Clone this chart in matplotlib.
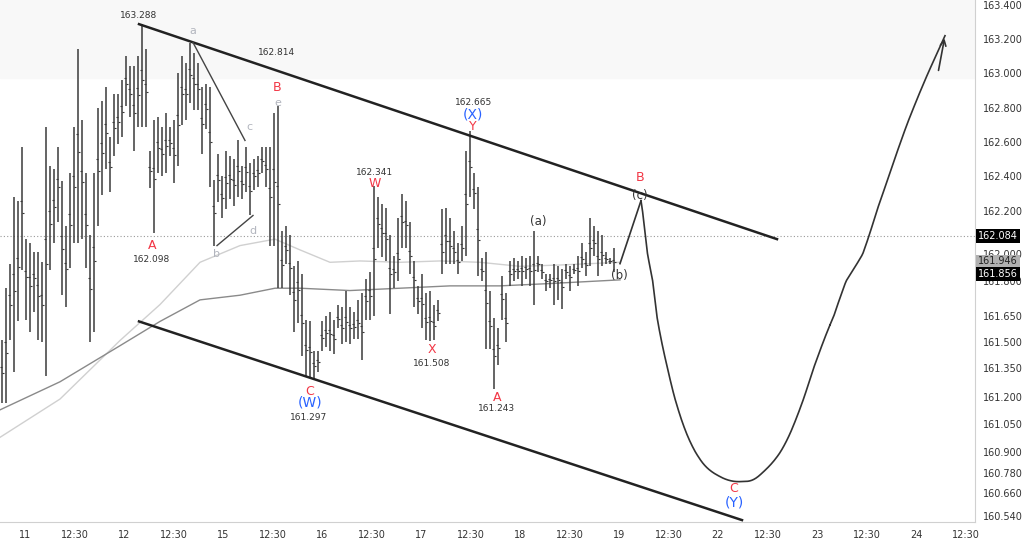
import numpy as np
import matplotlib.pyplot as plt
from matplotlib.scale import FuncScale

# price axis of the reference is not linear: keep its tick layout
tick_vals = [160.54, 160.66, 160.78, 160.90, 161.05, 161.20, 161.35, 161.50, 161.65,
             161.80, 162.00, 162.20, 162.40, 162.60, 162.80, 163.00, 163.20, 163.40]
tick_px = [516, 493, 473, 452, 424, 397, 368, 342, 316, 281, 254, 211, 176, 142, 108, 73, 39, 5]

x_labels = ['11', '12:30', '12', '12:30', '15', '12:30', '16', '12:30', '17', '12:30',
            '18', '12:30', '19', '12:30', '22', '12:30', '23', '12:30', '24', '12:30']

# bars (high, low), one per hour
highs = [161.51, 161.77, 161.93, 162.28, 162.26, 162.57, 162.07, 162.05, 162.01, 162.01,
         161.94, 162.69, 162.46, 162.44, 162.57, 162.37, 162.13, 162.42, 162.69, 163.14,
         162.73, 162.42, 162.09, 162.42, 162.80, 162.84, 162.92, 162.63, 162.88, 162.88,
         162.96, 163.10, 163.04, 163.04, 163.10, 163.288, 163.14, 162.55, 162.73, 162.75,
         162.69, 162.77, 162.69, 162.73, 163.00, 163.10, 163.06, 163.18, 163.12, 163.06,
         162.92, 162.94, 162.92, 162.38, 162.53, 162.40, 162.55, 162.52, 162.50, 162.61,
         162.46, 162.57, 162.48, 162.50, 162.52, 162.57, 162.57, 162.57, 162.77, 162.814,
         162.11, 162.13, 162.09, 161.91, 161.95, 161.85, 161.63, 161.62, 161.45, 161.45,
         161.62, 161.65, 161.67, 161.63, 161.70, 161.69, 161.76, 161.69, 161.67, 161.72,
         161.75, 161.82, 161.87, 162.341, 162.28, 162.24, 162.22, 162.09, 161.99, 162.17,
         162.30, 162.26, 162.15, 161.95, 161.78, 161.85, 161.75, 161.76, 161.70, 161.72,
         162.21, 162.22, 162.17, 162.11, 162.05, 162.13, 162.55, 162.665, 162.42, 162.34,
         161.97, 162.01, 161.76, 161.64, 161.58, 161.84, 161.75, 161.95, 161.97, 161.95,
         161.99, 161.97, 161.99, 162.11, 161.99, 161.93, 161.85, 161.85, 161.93, 161.91,
         161.89, 161.93, 161.91, 161.93, 161.99, 162.05, 162.01, 162.17, 162.13, 162.11,
         162.09, 162.01, 161.97, 162.03]
lows = [161.17, 161.17, 161.51, 161.33, 161.62, 161.88, 161.63, 161.56, 161.67, 161.51,
        161.50, 161.31, 161.88, 162.05, 162.15, 161.74, 161.69, 161.90, 162.05, 162.05,
        162.07, 161.90, 161.50, 161.56, 162.13, 162.29, 162.44, 162.31, 162.52, 162.59,
        162.63, 162.81, 162.75, 162.55, 162.69, 162.69, 162.69, 162.33, 162.098, 162.42,
        162.40, 162.42, 162.52, 162.36, 162.46, 162.70, 162.73, 162.83, 162.79, 162.79,
        162.53, 162.68, 162.34, 162.04, 162.25, 162.17, 162.21, 162.27, 162.23, 162.28,
        162.27, 162.31, 162.18, 162.32, 162.34, 162.42, 162.34, 162.04, 162.04, 161.77,
        161.77, 161.93, 161.74, 161.56, 161.61, 161.42, 161.31, 161.297, 161.29, 161.33,
        161.45, 161.47, 161.45, 161.43, 161.58, 161.49, 161.50, 161.49, 161.52, 161.52,
        161.40, 161.63, 161.63, 161.65, 162.03, 161.98, 161.95, 161.66, 161.77, 161.80,
        162.03, 162.03, 161.85, 161.69, 161.66, 161.58, 161.51, 161.508, 161.51, 161.62,
        161.85, 161.93, 161.93, 161.93, 161.85, 161.95, 161.99, 162.28, 162.21, 161.84,
        161.80, 161.46, 161.46, 161.243, 161.37, 161.63, 161.50, 161.78, 161.80, 161.82,
        161.78, 161.82, 161.78, 161.70, 161.87, 161.82, 161.76, 161.77, 161.70, 161.72,
        161.68, 161.82, 161.76, 161.85, 161.78, 161.90, 161.84, 161.91, 161.99, 161.84,
        161.91, 161.93, 161.93, 161.87]

# moving averages
ma_light_x = [-0.5, 14.5, 29.5, 39.5, 49.5, 59.5, 68.25, 74.5, 82, 89.5, 99.5, 109.5, 119.5, 129.5, 139.5, 154.5]
ma_light_y = [160.98, 161.19, 161.51, 161.70, 161.94, 162.04, 162.07, 162.02, 161.94, 161.95,
              161.94, 161.95, 161.94, 161.91, 161.92, 161.94]
ma_dark_x = [-0.5, 14.5, 29.5, 39.5, 49.5, 59.5, 68.25, 74.5, 87, 99.5, 112, 124.5, 137, 154.5]
ma_dark_y = [161.13, 161.28, 161.48, 161.62, 161.72, 161.74, 161.77, 161.77, 161.76, 161.77,
             161.78, 161.78, 161.79, 161.81]

upper_chan = ([34.25, 193.75], [163.288, 162.07])
lower_chan = ([34.25, 185.0], [161.62, 160.52])
tri_ac = ([47.75, 60.75], [163.18, 162.61])
tri_bd = ([53.75, 62.75], [162.04, 162.18])
proj_zig = ([154.5, 159.75], [161.93, 162.26])
proj_x = [159.75, 164.5, 169.5, 174.5, 179.5, 184.5, 189.5, 197, 207, 217, 227, 235.75]
proj_y = [162.26, 161.55, 161.1, 160.86, 160.76, 160.73, 160.77, 161.0, 161.6, 162.1, 162.75, 163.22]

RED, BLUE, GRAY, DARK = '#f23645', '#2962ff', '#b2b5be', '#333333'
labels = [
    (34.25, 163.34, '163.288', DARK, 6.5), (47.75, 163.25, 'a', GRAY, 8),
    (68.75, 163.12, '162.814', DARK, 6.5), (68.75, 162.92, 'B', RED, 9),
    (69, 162.83, 'e', GRAY, 8), (61.75, 162.69, 'c', GRAY, 8),
    (62.75, 162.11, 'd', GRAY, 8), (53.75, 162.0, 'b', GRAY, 8),
    (37.5, 162.04, 'A', RED, 9), (37.5, 161.96, '162.098', DARK, 6.5),
    (77, 161.23, 'C', RED, 9), (77, 161.17, '(W)', BLUE, 10), (76.75, 161.09, '161.297', DARK, 6.5),
    (93.25, 162.42, '162.341', DARK, 6.5), (93.25, 162.36, 'W', RED, 9),
    (107.5, 161.46, 'X', RED, 9), (107.5, 161.38, '161.508', DARK, 6.5),
    (118, 162.83, '162.665', DARK, 6.5), (117.75, 162.76, '(X)', BLUE, 10),
    (117.75, 162.69, 'Y', RED, 9), (123.75, 161.20, 'A', RED, 9),
    (123.75, 161.14, '161.243', DARK, 6.5), (134, 162.15, '(a)', DARK, 8.5),
    (154.25, 161.84, '(b)', DARK, 8.5), (159.5, 162.29, '(c)', DARK, 8.5),
    (159.5, 162.39, 'B', RED, 9), (183, 160.69, 'C', RED, 9), (183, 160.61, '(Y)', BLUE, 10),
]

neg_px = [-p for p in tick_px]


def fwd(v):
    v = np.asarray(v, dtype=float)
    y = np.interp(v, tick_vals, neg_px)
    y = y + np.where(v > 163.4, (v - 163.4) * 170, 0) - np.where(v < 160.54, (160.54 - v) * 190, 0)
    return y


def inv(y):
    return np.interp(np.asarray(y, dtype=float), neg_px, tick_vals)


def catmull(xs, ys, n=30):
    p = np.column_stack([xs, ys])
    p = np.vstack([p[0], p, p[-1]])
    out = []
    for i in range(1, len(p) - 2):
        p0, p1, p2, p3 = p[i - 1], p[i], p[i + 1], p[i + 2]
        s = np.linspace(0, 1, n)[:, None]
        out.append(0.5 * (2 * p1 + (-p0 + p2) * s + (2 * p0 - 5 * p1 + 4 * p2 - p3) * s ** 2
                          + (-p0 + 3 * p1 - 3 * p2 + p3) * s ** 3))
    out = np.vstack(out)
    return out[:, 0], out[:, 1]


fig = plt.figure(figsize=(10.24, 5.4), dpi=100)
ax = fig.add_axes([0.0, 18 / 540, 975 / 1024, 1 - 18 / 540])
ax.set_yscale(FuncScale(ax.yaxis, (fwd, inv)))
ax.set_ylim(160.51, 163.43)
ax.set_xlim(-0.5, 243.25)

ax.axhspan(162.97, 163.43, color='#f8f8f8', zorder=0)

ax.plot(ma_light_x, ma_light_y, color='#d0d0d0', lw=1)
ax.plot(ma_dark_x, ma_dark_y, color='#8a8a8a', lw=1)
ax.axhline(162.084, color='#999999', lw=0.8, ls=(0, (1, 2)))

idx = np.arange(len(highs))
h = np.array(highs)
l = np.array(lows)
mid_o = l + (h - l) * 0.55
mid_c = l + (h - l) * 0.45
ax.vlines(idx, l, h, color='#3a3a3a', lw=1.1)
ax.hlines(mid_o, idx - 0.4, idx, color='#3a3a3a', lw=0.8)
ax.hlines(mid_c, idx, idx + 0.4, color='#3a3a3a', lw=0.8)

ax.plot(*upper_chan, color='#222222', lw=1.8)
ax.plot(*lower_chan, color='#222222', lw=1.8)
ax.plot(*tri_ac, color='#444444', lw=1)
ax.plot(*tri_bd, color='#444444', lw=1)

ax.plot(*proj_zig, color='#333333', lw=1.2)
cx, cy = catmull(proj_x, proj_y)
ax.plot(cx, cy, color='#333333', lw=1.2)
ax.annotate('', xy=(proj_x[-1], proj_y[-1]), xytext=(234.0, 163.0),
            arrowprops=dict(arrowstyle='->', color='#333333', lw=1.2))

for x, y, s, c, fs in labels:
    ax.text(x, y, s, color=c, fontsize=fs, ha='center', va='center')

ax.yaxis.tick_right()
ax.set_yticks(tick_vals)
ax.set_yticklabels([f'{v:.3f}' for v in tick_vals], fontsize=7, color='#333333')
ax.set_xticks([5.75 + 12.375 * i for i in range(len(x_labels))])
ax.set_xticklabels(x_labels, fontsize=7, color='#333333')
ax.tick_params(length=0, pad=6)
for sp in ['top', 'left']:
    ax.spines[sp].set_visible(False)
ax.spines['right'].set_color('#d0d0d0')
ax.spines['bottom'].set_color('#d0d0d0')

for val, fc, tc in [(162.084, 'black', 'white'), (161.946, '#b0b0b0', '#222222'), (161.856, 'black', 'white')]:
    ax.text(1.003, val, f'{val:.3f}', transform=ax.get_yaxis_transform(), fontsize=7,
            color=tc, va='center', ha='left',
            bbox=dict(boxstyle='square,pad=0.2', fc=fc, ec='none'))

fig.savefig('out.png', dpi=100)
